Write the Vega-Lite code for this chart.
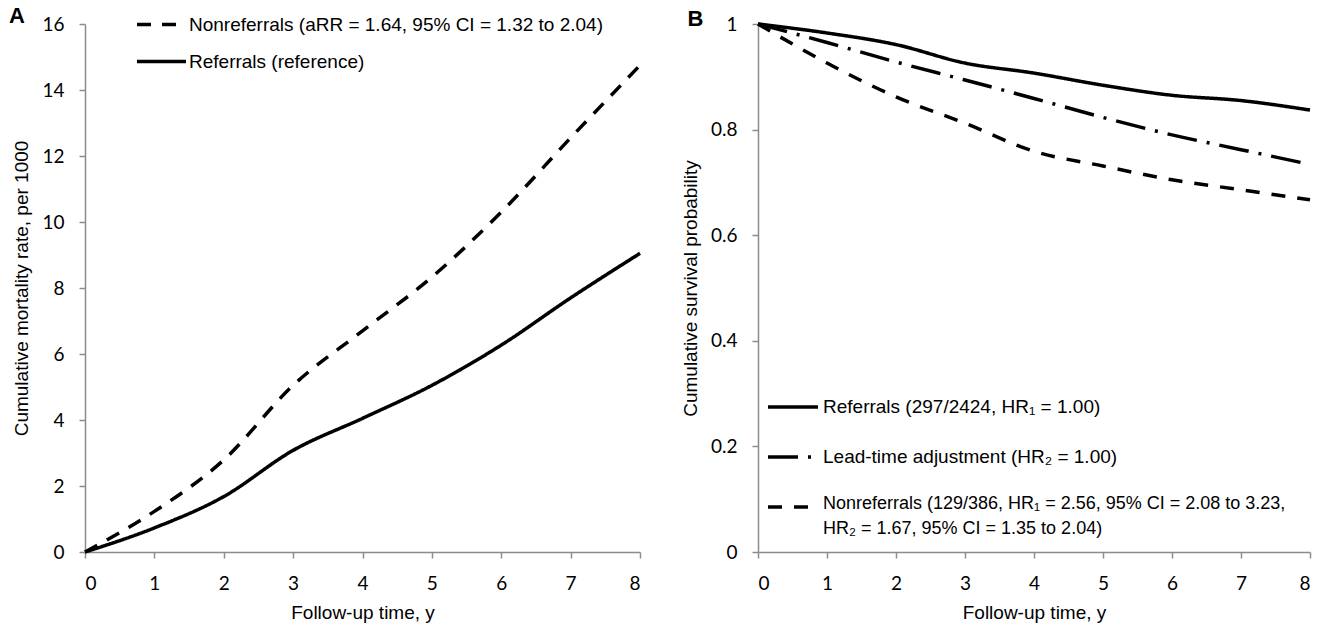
{
  "$schema": "https://vega.github.io/schema/vega-lite/v6.json",
  "padding": {"left": 8, "top": -2, "right": 8, "bottom": 5},
  "background": "white",
  "resolve": {"scale": {"strokeDash": "independent"}, "legend": {"strokeDash": "independent"}},
  "config": {
    "view": {"stroke": null},
    "font": "Liberation Sans",
    "concat": {"spacing": 34},
    "axis": {
      "grid": false,
      "domainColor": "#8c8c8c",
      "domainWidth": 1.5,
      "tickColor": "#8c8c8c",
      "tickWidth": 1.5,
      "tickSize": 6,
      "labelFont": "Lato",
      "labelFontSize": 19,
      "labelColor": "black",
      "titleFont": "Liberation Sans",
      "titleFontSize": 19,
      "titleFontWeight": "normal",
      "titleColor": "black"
    },
    "axisX": {"labelPadding": 16, "titlePadding": 10},
    "axisY": {"labelPadding": 15, "titlePadding": 10},
    "title": {"font": "Liberation Sans", "fontSize": 22, "fontWeight": "bold", "color": "black", "frame": "bounds", "anchor": "start"}
  },
  "datasets": {
    "a": [
      {"year": 0, "group": "Nonreferrals", "rate": 0},
      {"year": 1, "group": "Nonreferrals", "rate": 1.23},
      {"year": 2, "group": "Nonreferrals", "rate": 2.79},
      {"year": 3, "group": "Nonreferrals", "rate": 5.05},
      {"year": 4, "group": "Nonreferrals", "rate": 6.7},
      {"year": 5, "group": "Nonreferrals", "rate": 8.33},
      {"year": 6, "group": "Nonreferrals", "rate": 10.3},
      {"year": 7, "group": "Nonreferrals", "rate": 12.55},
      {"year": 8, "group": "Nonreferrals", "rate": 14.75},
      {"year": 0, "group": "Referrals", "rate": 0},
      {"year": 1, "group": "Referrals", "rate": 0.73},
      {"year": 2, "group": "Referrals", "rate": 1.68},
      {"year": 3, "group": "Referrals", "rate": 3.08},
      {"year": 4, "group": "Referrals", "rate": 4.05},
      {"year": 5, "group": "Referrals", "rate": 5.05},
      {"year": 6, "group": "Referrals", "rate": 6.27},
      {"year": 7, "group": "Referrals", "rate": 7.7},
      {"year": 8, "group": "Referrals", "rate": 9.05}
    ],
    "b": [
      {"year": 0, "group": "Referrals", "surv": 1},
      {"year": 1, "group": "Referrals", "surv": 0.983},
      {"year": 2, "group": "Referrals", "surv": 0.961},
      {"year": 3, "group": "Referrals", "surv": 0.926},
      {"year": 4, "group": "Referrals", "surv": 0.907},
      {"year": 5, "group": "Referrals", "surv": 0.884},
      {"year": 6, "group": "Referrals", "surv": 0.865},
      {"year": 7, "group": "Referrals", "surv": 0.855},
      {"year": 8, "group": "Referrals", "surv": 0.837},
      {"year": 0, "group": "Lead-time", "surv": 1},
      {"year": 1, "group": "Lead-time", "surv": 0.965},
      {"year": 2, "group": "Lead-time", "surv": 0.928},
      {"year": 3, "group": "Lead-time", "surv": 0.894},
      {"year": 4, "group": "Lead-time", "surv": 0.859},
      {"year": 5, "group": "Lead-time", "surv": 0.823},
      {"year": 6, "group": "Lead-time", "surv": 0.79},
      {"year": 7, "group": "Lead-time", "surv": 0.762},
      {"year": 8, "group": "Lead-time", "surv": 0.734},
      {"year": 0, "group": "Nonreferrals", "surv": 1},
      {"year": 1, "group": "Nonreferrals", "surv": 0.926},
      {"year": 2, "group": "Nonreferrals", "surv": 0.862},
      {"year": 3, "group": "Nonreferrals", "surv": 0.812},
      {"year": 4, "group": "Nonreferrals", "surv": 0.759},
      {"year": 5, "group": "Nonreferrals", "surv": 0.731},
      {"year": 6, "group": "Nonreferrals", "surv": 0.705},
      {"year": 7, "group": "Nonreferrals", "surv": 0.686},
      {"year": 8, "group": "Nonreferrals", "surv": 0.667}
    ]
  },
  "hconcat": [
    {
      "title": {"text": "A", "dx": -4, "offset": -30},
      "width": 555,
      "height": 528,
      "data": {"name": "a"},
      "mark": {"type": "line", "strokeWidth": 3.5, "color": "black", "interpolate": "monotone"},
      "encoding": {
        "x": {"field": "year", "type": "quantitative", "scale": {"domain": [0, 8], "nice": false},
              "axis": {"title": "Follow-up time, y", "values": [0, 1, 2, 3, 4, 5, 6, 7, 8]}},
        "y": {"field": "rate", "type": "quantitative", "scale": {"domain": [0, 16], "nice": false},
              "axis": {"title": "Cumulative mortality rate, per 1000", "values": [0, 2, 4, 6, 8, 10, 12, 14, 16]}},
        "strokeDash": {
          "field": "group", "type": "nominal",
          "scale": {"domain": ["Nonreferrals", "Referrals"], "range": [[14, 11], [1, 0]]},
          "legend": {
            "title": null, "orient": "none", "legendX": 50, "legendY": -26,
            "symbolType": "stroke", "symbolSize": 2401, "symbolStrokeWidth": 3.5, "symbolStrokeColor": "black",
            "labelFontSize": 19, "labelLimit": 800, "labelOffset": 1, "rowPadding": -14,
            "labelFont": "Liberation Sans", "labelColor": "black",
            "labelExpr": "datum.value == 'Nonreferrals' ? 'Nonreferrals (aRR = 1.64, 95% CI = 1.32 to 2.04)' : 'Referrals (reference)'"
          }
        }
      }
    },
    {
      "title": {"text": "B", "dx": 6, "offset": -16},
      "width": 552,
      "height": 528,
      "data": {"name": "b"},
      "mark": {"type": "line", "strokeWidth": 3.5, "color": "black", "interpolate": "monotone"},
      "encoding": {
        "x": {"field": "year", "type": "quantitative", "scale": {"domain": [0, 8], "nice": false},
              "axis": {"title": "Follow-up time, y", "values": [0, 1, 2, 3, 4, 5, 6, 7, 8]}},
        "y": {"field": "surv", "type": "quantitative", "scale": {"domain": [0, 1], "nice": false},
              "axis": {"title": "Cumulative survival probability", "values": [0, 0.2, 0.4, 0.6, 0.8, 1], "format": "~g"}},
        "strokeDash": {
          "field": "group", "type": "nominal",
          "scale": {"domain": ["Referrals", "Lead-time", "Nonreferrals"], "range": [[1, 0], [30, 10, 3, 10], [14, 12]]},
          "legend": {
            "title": null, "orient": "none", "legendX": 8, "legendY": 356,
            "symbolType": "stroke", "symbolSize": 2500, "symbolStrokeWidth": 3.5, "symbolStrokeColor": "black",
            "labelFontSize": 19, "labelLimit": 800, "labelOffset": 3, "rowPadding": 13,
            "labelFont": "Liberation Sans", "labelColor": "black",
            "labelExpr": "datum.value == 'Referrals' ? 'Referrals (297/2424, HR₁ = 1.00)' : datum.value == 'Lead-time' ? 'Lead-time adjustment (HR₂ = 1.00)' : ['Nonreferrals (129/386, HR₁ = 2.56, 95% CI = 2.08 to 3.23,', 'HR₂ = 1.67, 95% CI = 1.35 to 2.04)']",
            "encode": {"labels": {"update": {"fontSize": {"signal": "datum.value == 'Nonreferrals' ? 18 : 19"}, "lineHeight": {"value": 25}, "baseline": {"signal": "datum.value == 'Nonreferrals' ? 'top' : 'middle'"}, "dy": {"signal": "datum.value == 'Nonreferrals' ? -12 : 0"}}}}
          }
        }
      }
    }
  ]
}
